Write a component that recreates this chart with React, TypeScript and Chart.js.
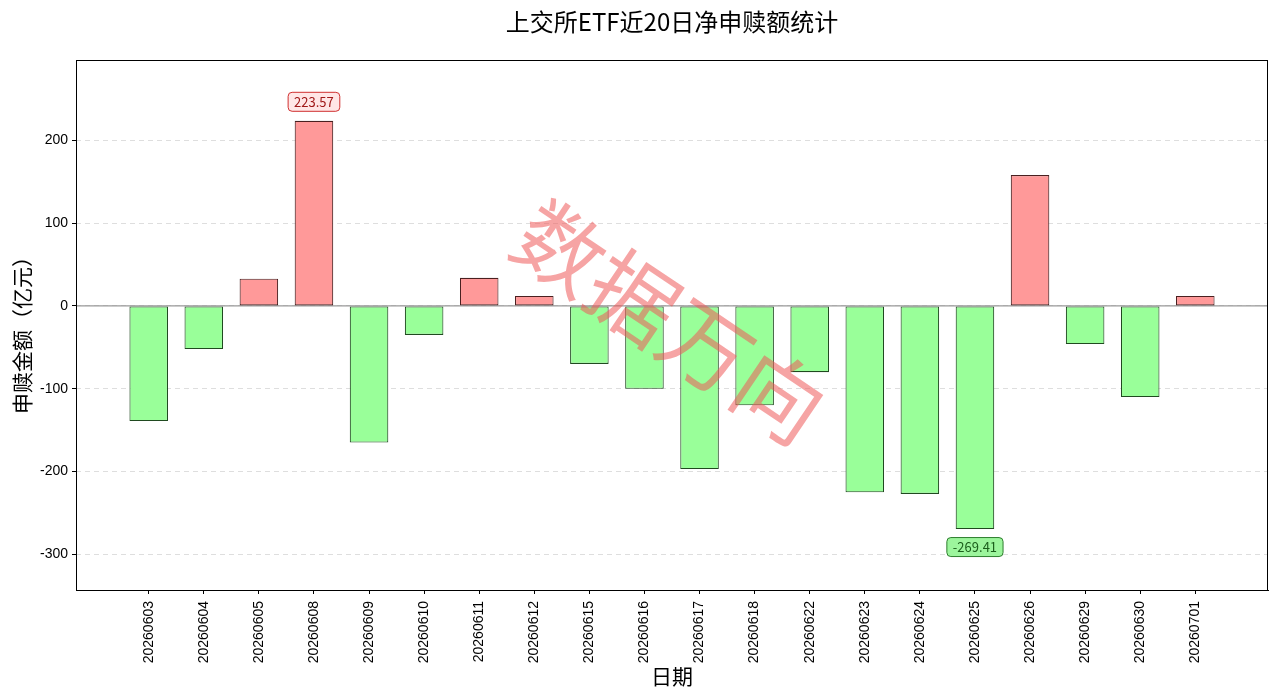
import React, { useEffect, useRef } from "react";
import { Chart, registerables } from "chart.js";

Chart.register(...registerables);

const dates = [
  "20260603", "20260604", "20260605", "20260608", "20260609", "20260610", "20260611",
  "20260612", "20260615", "20260616", "20260617", "20260618", "20260622", "20260623",
  "20260624", "20260625", "20260626", "20260629", "20260630", "20260701",
];
const netFlows = [
  -139, -52, 33, 223.57, -165, -35, 34, 12, -70, -100, -197, -120, -80, -225, -227,
  -269.41, 158, -46, -110, 12,
];
const yTicks = [-300, -200, -100, 0, 100, 200];

const TITLE = "上交所ETF近20日净申赎额统计";
const X_TITLE = "日期";
const Y_TITLE = "申赎金额（亿元）";
const WATERMARK = "数据万向";

const POS_FILL = "#FF9999";
const NEG_FILL = "#99FF99";
const CJK = '"Noto Sans CJK SC", "Noto Sans", sans-serif';
const LATIN = '"Liberation Sans", Arial, sans-serif';

function roundRect(ctx: CanvasRenderingContext2D, x: number, y: number, w: number, h: number, r: number) {
  ctx.beginPath();
  ctx.moveTo(x + r, y);
  ctx.lineTo(x + w - r, y);
  ctx.quadraticCurveTo(x + w, y, x + w, y + r);
  ctx.lineTo(x + w, y + h - r);
  ctx.quadraticCurveTo(x + w, y + h, x + w - r, y + h);
  ctx.lineTo(x + r, y + h);
  ctx.quadraticCurveTo(x, y + h, x, y + h - r);
  ctx.lineTo(x, y + r);
  ctx.quadraticCurveTo(x, y, x + r, y);
  ctx.closePath();
}

const decorPlugin = {
  id: "decor",
  beforeDatasetsDraw(chart: any) {
    const { ctx, chartArea } = chart;
    const y0 = chart.scales.y.getPixelForValue(0);
    ctx.save();
    ctx.strokeStyle = "#999999";
    ctx.lineWidth = 1.2;
    ctx.beginPath();
    ctx.moveTo(chartArea.left, y0);
    ctx.lineTo(chartArea.right, y0);
    ctx.stroke();
    ctx.restore();
  },
  afterDatasetsDraw(chart: any) {
    const { ctx, chartArea } = chart;
    const xs = chart.scales.x;
    const ys = chart.scales.y;

    // watermark
    ctx.save();
    ctx.translate(670, 322);
    ctx.rotate((34 * Math.PI) / 180);
    ctx.font = `88px ${CJK}`;
    ctx.fillStyle = "rgba(238, 90, 90, 0.55)";
    ctx.textAlign = "center";
    ctx.textBaseline = "middle";
    ctx.fillText(WATERMARK, 0, 0);
    ctx.restore();

    // annotations for max / min
    let maxI = 0;
    let minI = 0;
    netFlows.forEach((v, i) => {
      if (v > netFlows[maxI]) maxI = i;
      if (v < netFlows[minI]) minI = i;
    });
    const drawBox = (i: number, fill: string, stroke: string, color: string, up: boolean) => {
      const v = netFlows[i];
      const cx = xs.getPixelForValue(i);
      const cy = ys.getPixelForValue(v) + (up ? -19 : 18);
      const label = v.toFixed(2);
      ctx.save();
      ctx.font = `13px ${CJK}`;
      const w = ctx.measureText(label).width + 12;
      const h = 19;
      roundRect(ctx, cx - w / 2, cy - h / 2, w, h, 4);
      ctx.fillStyle = fill;
      ctx.fill();
      ctx.strokeStyle = stroke;
      ctx.lineWidth = 1;
      ctx.stroke();
      ctx.fillStyle = color;
      ctx.textAlign = "center";
      ctx.textBaseline = "middle";
      ctx.fillText(label, cx, cy + 0.5);
      ctx.restore();
    };
    drawBox(maxI, "#FFE6E6", "#D03030", "#A01818", true);
    drawBox(minI, "#9CF59C", "#2E7D2E", "#1B5E1B", false);

    // frame
    ctx.save();
    ctx.strokeStyle = "#000";
    ctx.lineWidth = 1;
    ctx.strokeRect(chartArea.left + 0.5, chartArea.top + 0.5, chartArea.right - chartArea.left - 1, chartArea.bottom - chartArea.top);
    ctx.restore();
  },
  afterDraw(chart: any) {
    const { ctx, chartArea } = chart;
    ctx.save();
    ctx.fillStyle = "#000";
    ctx.textAlign = "center";
    ctx.textBaseline = "middle";
    ctx.font = `24px ${CJK}`;
    ctx.fillText(TITLE, (chartArea.left + chartArea.right) / 2, 22);
    ctx.font = `21px ${CJK}`;
    ctx.fillText(X_TITLE, (chartArea.left + chartArea.right) / 2, 676);
    ctx.translate(22, (chartArea.top + chartArea.bottom) / 2 + 5);
    ctx.rotate(-Math.PI / 2);
    ctx.fillText(Y_TITLE, 0, 0);
    ctx.restore();
  },
};

export default function App() {
  const ref = useRef<HTMLCanvasElement>(null);
  useEffect(() => {
    if (!ref.current) return;
    const chart = new Chart(ref.current, {
      type: "bar",
      data: {
        datasets: [
          {
            data: dates.map((_, i) => ({ x: i, y: netFlows[i] })) as any,
            backgroundColor: netFlows.map((v) => (v >= 0 ? POS_FILL : NEG_FILL)),
            borderColor: netFlows.map((v) => (v >= 0 ? "#4a2020" : "#204a20")),
            borderWidth: 1.1,
            borderSkipped: false,
            barPercentage: 0.7,
            categoryPercentage: 1.0,
          },
        ],
      },
      options: {
        responsive: false,
        animation: false,
        layout: { padding: { top: 60, right: 12, left: 0, bottom: 0 } },
        plugins: { legend: { display: false }, tooltip: { enabled: false }, title: { display: false } },
        scales: {
          x: {
            type: "linear",
            min: -1.32,
            max: 20.32,
            offset: false,
            afterBuildTicks: (axis: any) => {
              axis.ticks = dates.map((_, i) => ({ value: i }));
            },
            afterFit: (axis: any) => {
              axis.height = 106;
            },
            grid: { offset: false, drawOnChartArea: false, drawTicks: true, tickLength: 4, tickColor: "#000" },
            border: { display: true, color: "#000" },
            ticks: {
              autoSkip: false,
              minRotation: 90,
              maxRotation: 90,
              padding: 7,
              color: "#000",
              font: { family: LATIN, size: 14 },
              callback: (v: any) => dates[Number(v)] ?? "",
            },
          },
          y: {
            type: "linear",
            min: -343,
            max: 297,
            afterBuildTicks: (axis: any) => {
              axis.ticks = yTicks.map((v) => ({ value: v }));
            },
            afterFit: (axis: any) => {
              axis.width = 76;
            },
            grid: {
              color: "rgba(0,0,0,0.13)",
              tickBorderDash: [],
              tickColor: "#000",
              tickLength: 4,
            } as any,
            border: { display: false, dash: [5, 4] },
            ticks: {
              padding: 4,
              color: "#000",
              font: { family: LATIN, size: 14 },
            },
          },
        },
      } as any,
      plugins: [decorPlugin],
    });
    return () => chart.destroy();
  }, []);
  return (
    <div style={{ position: "absolute", left: 0, top: 0, width: 1280, height: 696, background: "#fff" }}>
      <canvas ref={ref} width={1280} height={696} style={{ width: 1280, height: 696, display: "block" }} />
    </div>
  );
}
